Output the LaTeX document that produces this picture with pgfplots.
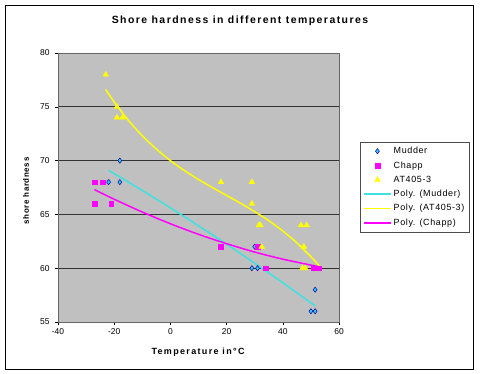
\documentclass[border=0pt]{standalone}
\usepackage{pgfplots}
\pgfplotsset{compat=1.18}
\usepackage{fontspec}
\setmainfont{Liberation Sans}
\newfontfamily\spacedfont[LetterSpace=8]{Liberation Sans}
\newfontfamily\titlefont[LetterSpace=14]{Liberation Sans}
\newfontfamily\xlabfont[LetterSpace=15]{Liberation Sans}
\newfontfamily\legfont[LetterSpace=7]{Liberation Sans}
\definecolor{plotgray}{RGB}{192,192,192}
\definecolor{mudfill}{RGB}{51,204,255}
\definecolor{mudedge}{RGB}{0,0,150}
\definecolor{cyanline}{RGB}{64,224,224}
\definecolor{magline}{RGB}{255,0,255}
\definecolor{yelline}{RGB}{255,255,0}
\pgfplotsset{
  legend image code/.code={\draw[mark repeat=2,mark phase=2,#1] plot coordinates {(0bp,0bp) (13.5bp,0bp) (27bp,0bp)};},
}
\begin{document}
\begin{tikzpicture}
\useasboundingbox (0,0) rectangle (480bp,-374bp);
\fill[white] (0,0) rectangle (480bp,-374bp);
\draw[black, line width=0.8bp] (5bp,-5bp) rectangle (473bp,-369bp);
\node[font=\fontsize{10.5}{12}\selectfont] at (240bp,-21bp) {\titlefont\bfseries Shore hardness in different temperatures};
\node[font=\fontsize{8}{10}\selectfont, rotate=90] at (26bp,-191bp) {\spacedfont\bfseries shore hardness};
\node[font=\fontsize{9}{11}\selectfont] at (198bp,-352bp) {\xlabfont\bfseries Temperature in\textdegree C};
\begin{axis}[
  at={(58bp,-322bp)}, anchor=south west,
  scale only axis, width=281bp, height=269bp,
  xmin=-40, xmax=60, ymin=55, ymax=80,
  xtick={-40,-20,0,20,40,60}, ytick={55,60,65,70,75,80},
  axis background/.style={fill=plotgray},
  ymajorgrids, grid style={black!80, line width=0.8bp},
  axis line style={black!60, line width=0.8bp},
  tick align=outside, major tick length=3bp,
  tick style={black, line width=0.6bp},
  xtick pos=bottom, ytick pos=left,
  tick label style={font=\fontsize{8.5}{10}\selectfont},
  yticklabel style={xshift=-2bp},
  /pgf/number format/assume math mode=true,
  legend style={at={(1.0747,0.669)}, anchor=north west, draw=black!70, fill=white,
    font=\fontsize{9}{10}\selectfont\legfont, row sep=2.4bp, inner sep=3bp,
    cells={anchor=west}},
]
\addplot[only marks, mark=diamond*, mark size=2.6bp, mark options={fill=mudfill, draw=mudedge, line width=0.5bp}]
  coordinates {(-18,70) (-22,68) (-18,68) (30,62) (29,60) (31,60) (51.5,58) (50,56) (51.5,56) (51,60)};
\addlegendentry{Mudder}
\addplot[only marks, mark=square*, mark size=2.3bp, mark options={fill=magline, draw=magline}]
  coordinates {(-27,68) (-24,68) (-27,66) (-21,66) (18,62) (31,62) (34,60) (51,60) (53,60)};
\addlegendentry{Chapp}
\addplot[only marks, mark=triangle*, mark size=3.3bp, mark options={fill=yelline, draw=yelline}]
  coordinates {(-23,78) (-19,75) (-19,74) (-17,74) (18,68) (29,68) (29,66) (31.5,64) (32,64)
    (46.5,64) (48.5,64) (47.5,62) (32.5,62) (47,60) (48,60)};
\addlegendentry{AT405-3}
\addplot[draw=cyanline, line width=1.5bp, smooth, no marks]
  coordinates {(-22,69.1) (-10,67.22) (0,65.61) (10,63.94) (20,62.23) (30,60.46) (40,58.65) (51.5,56.5)};
\addlegendentry{Poly. (Mudder)}
\addplot[draw=yelline, line width=1.5bp, smooth, no marks]
  coordinates {(-23,76.6) (-20,75.45) (-15,73.76) (-10,72.31) (-5,71.07) (0,70) (5,69.07) (10,68.25)
    (15,67.49) (20,66.76) (25,66.03) (30,65.26) (35,64.42) (40,63.46) (45,62.36) (50,61.07) (53,60.2)};
\addlegendentry{Poly. (AT405-3)}
\addplot[draw=magline, line width=1.5bp, smooth, no marks]
  coordinates {(-27,67.3) (-20,66.41) (-10,65.22) (0,64.13) (10,63.15) (20,62.28) (30,61.50) (40,60.84) (53.5,60.1)};
\addlegendentry{Poly. (Chapp)}
\end{axis}
\end{tikzpicture}
\end{document}
